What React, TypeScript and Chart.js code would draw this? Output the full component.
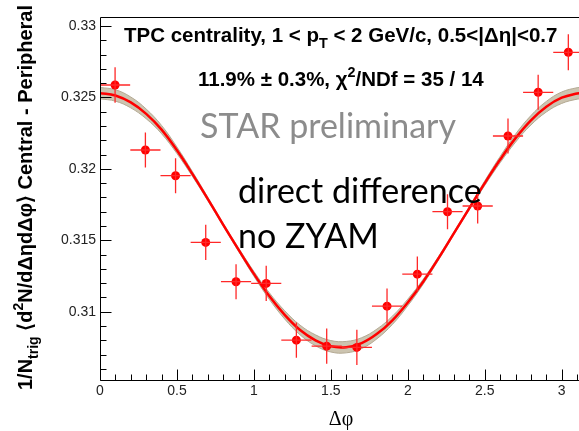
import React, { useEffect, useRef } from "react";
import { Chart, registerables } from "chart.js";

Chart.register(...registerables);

// ---- data ----
const phiBins = [0.098, 0.295, 0.491, 0.687, 0.884, 1.08, 1.276, 1.473, 1.669, 1.865, 2.062, 2.258, 2.454, 2.651, 2.847, 3.043];
const yieldValues = [0.32587, 0.32132, 0.31952, 0.31485, 0.3121, 0.31198, 0.30801, 0.30759, 0.3075, 0.31039, 0.31263, 0.317, 0.3174, 0.3223, 0.32536, 0.32816];
const yieldErrors = [0.00124, 0.00123, 0.00122, 0.00123, 0.00123, 0.00123, 0.00123, 0.00123, 0.00123, 0.00123, 0.00123, 0.00123, 0.00123, 0.00123, 0.00123, 0.00126];
const binHalfWidth = 0.098;

const fitPhi = [0, 0.1, 0.2, 0.3, 0.4, 0.5, 0.6, 0.7, 0.8, 0.9, 1.0, 1.1, 1.2, 1.3, 1.4, 1.5, 1.6, 1.7, 1.8, 1.9, 2.0, 2.1, 2.2, 2.3, 2.4, 2.5, 2.6, 2.7, 2.8, 2.9, 3.0, 3.1, 3.1416];
const fitValues = [0.3253, 0.32514, 0.32465, 0.32385, 0.32275, 0.3213, 0.31965, 0.3179, 0.3161, 0.31435, 0.31265, 0.3111, 0.30978, 0.30872, 0.308, 0.30758, 0.30752, 0.3078, 0.30845, 0.3094, 0.31065, 0.3121, 0.31375, 0.3155, 0.31725, 0.319, 0.32065, 0.32215, 0.3234, 0.32435, 0.32498, 0.32528, 0.32532];
const fitBand = [0.0004, 0.0004, 0.00038, 0.00034, 0.00029, 0.00023, 0.00017, 0.00012, 0.0001, 0.00012, 0.00017, 0.00023, 0.00029, 0.00034, 0.00038, 0.0004, 0.0004, 0.00038, 0.00034, 0.00029, 0.00023, 0.00017, 0.00012, 0.0001, 0.00011, 0.00016, 0.00022, 0.00028, 0.00033, 0.00037, 0.0004, 0.0004, 0.0004];

const xTicks = [0, 0.5, 1, 1.5, 2, 2.5, 3];
const yTicks = [0.31, 0.315, 0.32, 0.325, 0.33];
const xRange = [0, Math.PI];
const yRange = [0.30522, 0.33063];

const titleLine1 = [{ t: "TPC centrality, 1 < p" }, { t: "T", sub: true }, { t: " < 2 GeV/c, 0.5<|Δη|<0.7" }];
const titleLine2 = [{ t: "11.9% ± 0.3%, χ" }, { t: "2", sup: true }, { t: "/NDf = 35 / 14" }];
const yTitle = [{ t: "1/N" }, { t: "trig", sub: true }, { t: " ⟨d" }, { t: "2", sup: true }, { t: "N/dΔηdΔφ⟩ Central - Peripheral" }];
const xTitle = "Δφ";
const starLabel = "STAR preliminary";
const noteLines = ["direct difference", "no ZYAM"];

type Seg = { t: string; sub?: boolean; sup?: boolean };

function drawRich(ctx: CanvasRenderingContext2D, segs: Seg[], x: number, y: number, size: number, weight: string, family: string) {
  let cx = x;
  for (const s of segs) {
    const small = s.sub || s.sup;
    const fs = small ? size * 0.7 : size;
    ctx.font = `${weight} ${fs}px ${family}`;
    const dy = s.sub ? size * 0.3 : s.sup ? -size * 0.45 : 0;
    ctx.fillText(s.t, cx, y + dy);
    cx += ctx.measureText(s.t).width;
  }
}

const decorPlugin = {
  id: "decor",
  afterDatasetsDraw(chart: any) {
    const { ctx, scales } = chart;
    const xs = scales.x;
    const ys = scales.y;
    ctx.save();
    ctx.strokeStyle = "rgb(255,40,40)";
    ctx.lineWidth = 1.3;
    for (let i = 0; i < phiBins.length; i++) {
      const px = xs.getPixelForValue(phiBins[i]);
      const py = ys.getPixelForValue(yieldValues[i]);
      const x0 = xs.getPixelForValue(phiBins[i] - binHalfWidth);
      const x1 = xs.getPixelForValue(phiBins[i] + binHalfWidth);
      const y0 = ys.getPixelForValue(yieldValues[i] - yieldErrors[i]);
      const y1 = ys.getPixelForValue(yieldValues[i] + yieldErrors[i]);
      ctx.beginPath();
      ctx.moveTo(x0, py);
      ctx.lineTo(x1, py);
      ctx.moveTo(px, y0);
      ctx.lineTo(px, y1);
      ctx.stroke();
    }
    ctx.restore();
  },
  afterDraw(chart: any) {
    const { ctx, chartArea, scales } = chart;
    const { left, top, right, bottom } = chartArea;
    const xs = scales.x;
    const ys = scales.y;
    ctx.save();
    // frame
    ctx.strokeStyle = "#000";
    ctx.lineWidth = 1;
    ctx.beginPath();
    ctx.moveTo(Math.round(left) + 0.5, Math.round(bottom) + 0.5);
    ctx.lineTo(Math.round(left) + 0.5, Math.round(top) + 0.5);
    ctx.lineTo(right + 2, Math.round(top) + 0.5);
    ctx.moveTo(Math.round(left) + 0.5, Math.round(bottom) + 0.5);
    ctx.lineTo(right + 2, Math.round(bottom) + 0.5);
    ctx.stroke();
    // inward ticks
    const L = Math.round(left) + 0.5;
    const B = Math.round(bottom) + 0.5;
    ctx.beginPath();
    for (let k = Math.ceil(yRange[0] / 0.001 - 1e-6); k <= Math.floor(yRange[1] / 0.001 + 1e-6); k++) {
      const v = k * 0.001;
      const major = k % 5 === 0;
      const py = Math.round(ys.getPixelForValue(v)) + 0.5;
      ctx.moveTo(L, py);
      ctx.lineTo(L + (major ? 11 : 6), py);
    }
    for (let k = 0; k * 0.1 <= xRange[1]; k++) {
      const v = k * 0.1;
      const major = k % 5 === 0;
      const px = Math.round(xs.getPixelForValue(v)) + 0.5;
      ctx.moveTo(px, B);
      ctx.lineTo(px, B - (major ? 11 : 6));
    }
    ctx.stroke();

    // texts
    ctx.fillStyle = "#000";
    ctx.textAlign = "left";
    ctx.textBaseline = "alphabetic";
    drawRich(ctx, titleLine1, 124, 42, 20.5, "bold", "'Liberation Sans', Arial, sans-serif");
    drawRich(ctx, titleLine2, 198, 86, 20.5, "bold", "'Liberation Sans', Arial, sans-serif");

    ctx.fillStyle = "#8c8c8c";
    ctx.font = "34px Lato, 'Open Sans', sans-serif";
    ctx.fillText(starLabel, 200, 138);

    ctx.fillStyle = "#000";
    ctx.font = "34px Lato, 'Open Sans', sans-serif";
    ctx.fillText(noteLines[0], 238, 203);
    ctx.fillText(noteLines[1], 238, 248);

    // x title
    ctx.font = "20px 'Liberation Serif', 'DejaVu Serif', serif";
    ctx.textAlign = "center";
    ctx.fillText(xTitle, 341, 425);

    // y title
    ctx.textAlign = "left";
    ctx.save();
    ctx.translate(31.5, 390);
    ctx.rotate(-Math.PI / 2);
    drawRich(ctx, yTitle, 0, 0, 20, "bold", "'Liberation Sans', Arial, sans-serif");
    ctx.restore();
    ctx.restore();
  },
};

export default function App() {
  const ref = useRef<HTMLCanvasElement | null>(null);
  useEffect(() => {
    if (!ref.current) return;
    const points = phiBins.map((x, i) => ({ x, y: yieldValues[i] }));
    const fit = fitPhi.map((x, i) => ({ x, y: fitValues[i] }));
    const lower = fitPhi.map((x, i) => ({ x, y: fitValues[i] - fitBand[i] }));
    const upper = fitPhi.map((x, i) => ({ x, y: fitValues[i] + fitBand[i] }));
    const chart = new Chart(ref.current, {
      type: "scatter",
      data: {
        datasets: [
          {
            label: "data",
            data: points,
            showLine: false,
            pointRadius: 4.5,
            pointBackgroundColor: "rgb(255,0,0)",
            pointBorderWidth: 0,
            order: 0,
          } as any,
          {
            label: "fit",
            data: fit,
            showLine: true,
            pointRadius: 0,
            borderColor: "rgb(255,0,0)",
            borderWidth: 2.5,
            tension: 0.4,
            fill: false,
            order: 1,
          } as any,
          {
            label: "band low",
            data: lower,
            showLine: true,
            pointRadius: 0,
            borderColor: "rgb(180,170,148)",
            borderWidth: 1,
            tension: 0.4,
            fill: false,
            order: 2,
          } as any,
          {
            label: "band high",
            data: upper,
            showLine: true,
            pointRadius: 0,
            borderColor: "rgb(180,170,148)",
            borderWidth: 1,
            backgroundColor: "rgb(204,196,176)",
            tension: 0.4,
            fill: "-1",
            order: 3,
          } as any,
        ],
      },
      options: {
        animation: false,
        responsive: false,
        maintainAspectRatio: false,
        devicePixelRatio: 1,
        layout: { padding: { top: 17, right: 600 - 583.5, left: 0, bottom: 0 } },
        plugins: { legend: { display: false }, tooltip: { enabled: false } },
        events: [],
        scales: {
          x: {
            type: "linear",
            min: xRange[0],
            max: xRange[1],
            grid: { display: false, drawTicks: false },
            border: { display: false },
            afterBuildTicks: (s: any) => {
              s.ticks = xTicks.map((v) => ({ value: v }));
            },
            afterFit: (s: any) => {
              s.height = 51;
            },
            ticks: {
              padding: 3,
              color: "#222",
              font: { family: "'Liberation Sans', Arial, sans-serif", size: 14 },
              callback: (v: any) => String(v),
              maxRotation: 0,
              autoSkip: false,
            },
          },
          y: {
            type: "linear",
            min: yRange[0],
            max: yRange[1],
            grid: { display: false, drawTicks: false },
            border: { display: false },
            afterBuildTicks: (s: any) => {
              s.ticks = yTicks.map((v) => ({ value: v }));
            },
            afterFit: (s: any) => {
              s.width = 100;
            },
            ticks: {
              padding: 4,
              color: "#222",
              font: { family: "'Liberation Sans', Arial, sans-serif", size: 14 },
              callback: (v: any) => String(Number(v.toFixed(3))),
              autoSkip: false,
            },
          },
        },
      } as any,
      plugins: [decorPlugin],
    });
    return () => chart.destroy();
  }, []);
  return (
    <div style={{ position: "fixed", left: 0, top: 0, width: 579, height: 431, overflow: "hidden", background: "#fff" }}>
      <canvas ref={ref} width={600} height={431} style={{ display: "block" }} />
    </div>
  );
}
